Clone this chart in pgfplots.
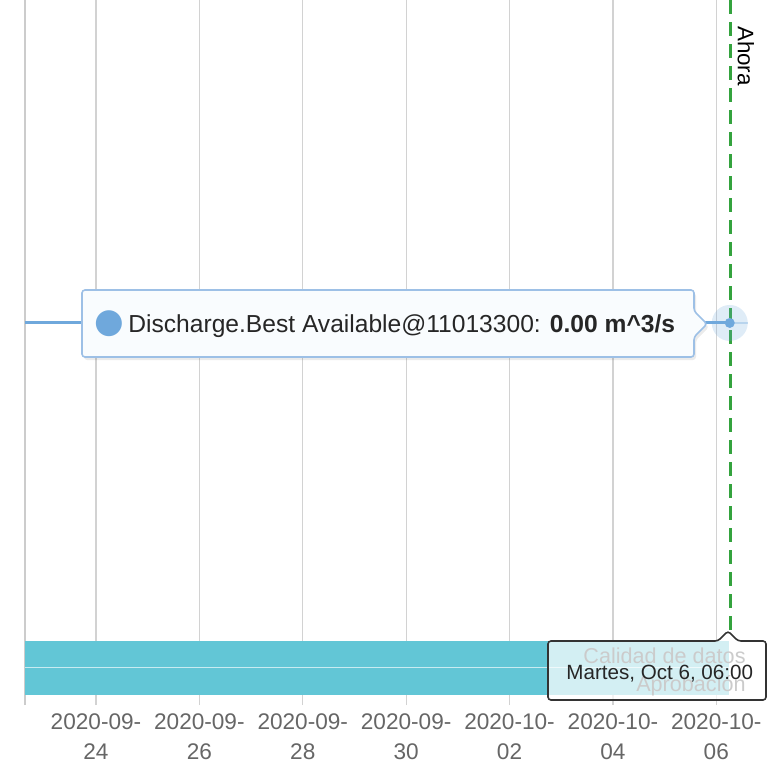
\documentclass[border=0pt]{standalone}
\usepackage{pgfplots}
\pgfplotsset{compat=1.18}
\usepackage{fontspec}
\setmainfont{Liberation Sans}
\newfontfamily\dejavu{DejaVu Sans}
\definecolor{lineblue}{HTML}{6FA8DC}
\definecolor{barcyan}{HTML}{62C6D6}
\definecolor{ahoragreen}{HTML}{34A33E}
\definecolor{tipborder}{HTML}{9DC0E6}
\definecolor{tickgray}{HTML}{666666}
\begin{document}
\begin{tikzpicture}
\path[use as bounding box] (0,0) rectangle (384pt,-386pt);
\begin{axis}[
 at={(12.5pt,0pt)}, anchor=north west,
 width=371.5pt, height=352.5pt, scale only axis,
 xmin=-1.373, xmax=13.0, ymin=-1.183, ymax=1,
 axis x line*=bottom, axis y line*=left,
 x axis line style={draw=none},
 y axis line style={draw=gray!40, line width=0.6pt, -},
 ytick=\empty,
 xtick={0,2,...,12},
 xticklabels={{2020-09-\\24},{2020-09-\\26},{2020-09-\\28},{2020-09-\\30},{2020-10-\\02},{2020-10-\\04},{2020-10-\\06}},
 xmajorgrids, grid style={gray!35, line width=0.6pt},
 major tick length=0pt,
 xticklabel style={align=center, font=\fontsize{11.3}{15}\selectfont, text=tickgray, yshift=-1pt},
 /pgf/number format/assume math mode=true,
 clip=false,
]
% quality / approval bar
\addplot[fill=barcyan, draw=none] coordinates {(-1.373,-0.985) (12.25,-0.985) (12.25,-1.152) (-1.373,-1.152)} -- cycle;
\addplot[white!65!barcyan, line width=0.6pt] coordinates {(-1.373,-1.068) (12.25,-1.068)};
% discharge series
\addplot[lineblue, line width=1.5pt] coordinates {(-1.373,0) (12.26,0)};
\addplot[lineblue!35, line width=0.6pt] coordinates {(12.26,0) (12.61,0)};
\addplot[color=lineblue, only marks, mark=*, mark size=9pt, mark options={fill=lineblue, draw opacity=0, fill opacity=0.22}] coordinates {(12.26,0)};
\addplot[color=lineblue, only marks, mark=*, mark size=2.5pt, mark options={fill=lineblue, draw opacity=0}] coordinates {(12.26,0)};
% now line
\addplot[ahoragreen, line width=1.5pt, dash pattern=on 7pt off 4pt] coordinates {(12.28,1) (12.28,-0.957)};
\end{axis}
\begin{scope}[x=0.5pt,y=-0.5pt]
\node[rotate=-90, font=\fontsize{11.2}{12}\selectfont, text=black] at (746,56) {Ahora};
% main tooltip
\fill[black, opacity=0.08, rounded corners=1.5pt] (84,293) -- (696,293) -- (696,314) -- (709,327) -- (696,340) -- (696,360) -- (84,360) -- cycle;
\filldraw[fill=white!96!lineblue, draw=tipborder, line width=0.8pt, rounded corners=1.5pt] (82,290) -- (694,290) -- (694,311) -- (707,324) -- (694,337) -- (694,357) -- (82,357) -- cycle;
\node[text=lineblue, font=\dejavu\fontsize{17}{17}\selectfont, inner sep=0pt] at (109,324) {●};
\node[anchor=base west, inner sep=0pt, font=\fontsize{12.3}{14}\selectfont, text=black!85] at (128,332) {Discharge.Best Available@11013300: \textbf{0.00 m\^{}3/s}};
% row labels of the bar
\node[anchor=base east, inner sep=0pt, font=\fontsize{10.8}{12}\selectfont, text=black!72] at (746,663) {Calidad de datos};
\node[anchor=base east, inner sep=0pt, font=\fontsize{10.8}{12}\selectfont, text=black!72] at (746,691) {Aprobación};
% time tooltip
\filldraw[fill=white, fill opacity=0.72, draw=black!80, line width=0.8pt, rounded corners=1.5pt] (548,641) -- (718,641) -- (728,631) -- (738,641) -- (766,641) -- (766,700) -- (548,700) -- cycle;
\node[anchor=base west, inner sep=0pt, font=\fontsize{10.3}{12}\selectfont, text=black!85] at (566,679) {Martes, Oct 6, 06:00};
\end{scope}
\end{tikzpicture}
\end{document}
